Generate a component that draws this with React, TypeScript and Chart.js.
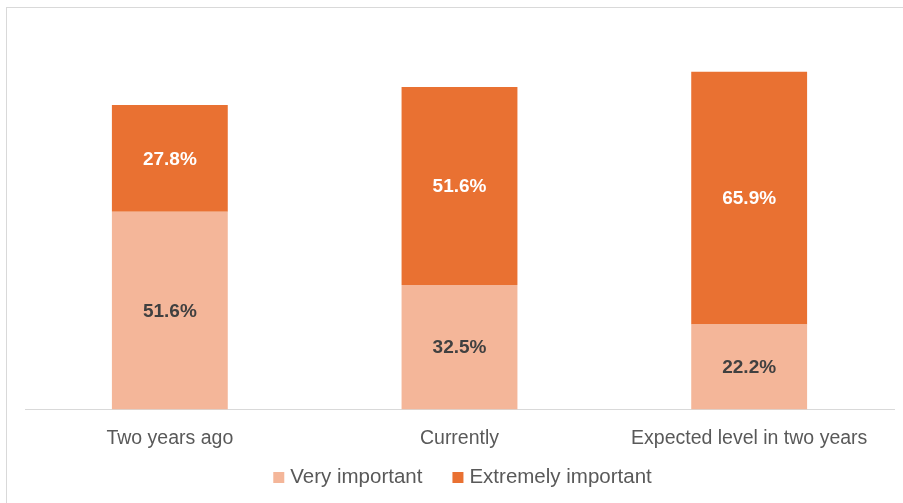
import React, { useEffect, useRef } from "react";
import { Chart, registerables } from "chart.js";

Chart.register(...registerables);

const categories = ["Two years ago", "Currently", "Expected level in two years"];
const veryImportant = [51.6, 32.5, 22.2];
const extremelyImportant = [27.8, 51.6, 65.9];
const seriesNames = ["Very important", "Extremely important"];
const seriesColors = ["#F4B699", "#E97132"];

const FONT = "'Liberation Sans', Arial, sans-serif";

const labelPlugin = {
  id: "segLabels",
  afterDatasetsDraw(chart: any) {
    const ctx = chart.ctx;
    ctx.save();
    ctx.font = `bold 19px ${FONT}`;
    ctx.textAlign = "center";
    ctx.textBaseline = "middle";
    chart.data.datasets.forEach((ds: any, di: number) => {
      const meta = chart.getDatasetMeta(di);
      meta.data.forEach((bar: any, i: number) => {
        const v = ds.data[i];
        const cy = (bar.y + bar.base) / 2;
        ctx.fillStyle = di === 0 ? "#404040" : "#FFFFFF";
        ctx.fillText(v.toFixed(1) + "%", bar.x, cy + 1);
      });
    });
    ctx.restore();
  },
};

const legendPlugin = {
  id: "customLegend",
  afterDraw(chart: any) {
    const ctx = chart.ctx;
    const area = chart.chartArea;
    ctx.save();
    ctx.font = `20.5px ${FONT}`;
    ctx.textBaseline = "alphabetic";
    ctx.textAlign = "left";
    const box = 11;
    const gap = 6;
    const spacing = 30;
    const widths = seriesNames.map((n) => ctx.measureText(n).width);
    const total = widths.reduce((a, w) => a + box + gap + w, 0) + spacing * (seriesNames.length - 1);
    let x = (area.left + area.right) / 2 + 3 - total / 2;
    const baseline = 483;
    seriesNames.forEach((n, i) => {
      ctx.fillStyle = seriesColors[i];
      ctx.fillRect(x, baseline - box, box, box);
      x += box + gap;
      ctx.fillStyle = "#595959";
      ctx.fillText(n, x, baseline);
      x += widths[i] + spacing;
    });
    ctx.restore();
  },
};

export default function App() {
  const ref = useRef<HTMLCanvasElement>(null);
  useEffect(() => {
    const chart = new Chart(ref.current!, {
      type: "bar",
      data: {
        labels: categories,
        datasets: [
          { label: seriesNames[0], data: veryImportant, backgroundColor: seriesColors[0], categoryPercentage: 1, barPercentage: 0.4 },
          { label: seriesNames[1], data: extremelyImportant, backgroundColor: seriesColors[1], categoryPercentage: 1, barPercentage: 0.4 },
        ],
      },
      options: {
        animation: false,
        responsive: false,
        layout: { padding: { left: 25, right: 9, top: 26, bottom: 36 } },
        scales: {
          x: {
            stacked: true,
            grid: { display: false, drawTicks: false },
            border: { display: true, color: "#D9D9D9", width: 1 },
            ticks: { color: "#595959", font: { family: FONT, size: 19.5 }, padding: 17 },
          },
          y: {
            stacked: true,
            display: false,
            min: 0,
            max: 100,
          },
        },
        plugins: {
          legend: { display: false },
          tooltip: { enabled: false },
        },
      },
      plugins: [labelPlugin, legendPlugin],
    });
    return () => chart.destroy();
  }, []);
  return (
    <div style={{ position: "absolute", left: 0, top: 0, width: 903, height: 503, background: "#fff", overflow: "hidden" }}>
      <div style={{ position: "absolute", left: 6, top: 7, width: 920, height: 520, border: "1px solid #D9D9D9", boxSizing: "border-box" }} />
      <canvas ref={ref} width={903} height={503} style={{ position: "absolute", left: 0, top: 0 }} />
    </div>
  );
}
